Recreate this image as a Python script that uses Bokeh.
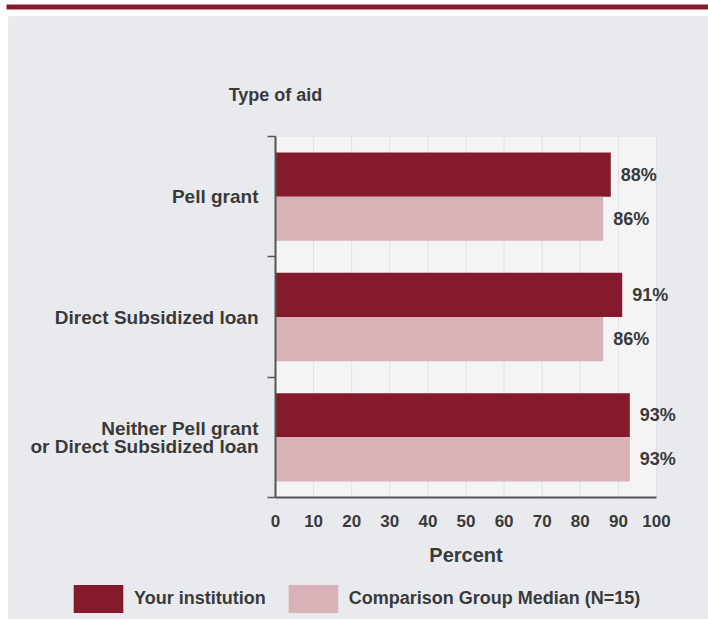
from bokeh.plotting import figure
from bokeh.models import (Range1d, FixedTicker, Label, LabelSet, ColumnDataSource,
                          Legend, LegendItem, BoxAnnotation)
from bokeh.core.properties import value
from bokeh.embed import file_html
from bokeh.resources import INLINE

# ---- data ----
categories = ["Pell grant", "Direct Subsidized loan", "Neither Pell grant\nor Direct Subsidized loan"]
your_institution = [88, 91, 93]
comparison_median = [86, 86, 93]
x_ticks = [0, 10, 20, 30, 40, 50, 60, 70, 80, 90, 100]
series_names = ["Your institution", "Comparison Group Median (N=15)"]
axis_title_y = "Type of aid"
axis_title_x = "Percent"

# ---- style / layout ----
DARK = "#851a2c"
LIGHT = "#d8b2b7"
PANEL = "#e9eaee"
PLOTBG = "#f4f4f4"
TEXT = "#3a3a3a"
AXIS = "#555555"
FONT = "Liberation Sans"

W, H = 708, 619
PX_X0, PX_X100 = 275, 656      # where 0 and 100 % sit on the canvas
PX_TOP, PX_BOT = 136, 497      # top and bottom of the category band
n = len(categories)
XMAX = x_ticks[-1]
kx = (PX_X100 - PX_X0) / XMAX
ky = (PX_BOT - PX_TOP) / n
x_start = -PX_X0 / kx
x_end = XMAX + (W - PX_X100) / kx
y_top = -PX_TOP / ky
y_bot = n + (H - PX_BOT) / ky


def dx(px):
    return (px - PX_X0) / kx


def dy(py):
    return (py - PX_TOP) / ky


bar_h = 0.3667
pad = (1 - 2 * bar_h) / 2
idx = list(range(n))
y_dark = [i + pad + bar_h / 2 for i in idx]
y_light = [i + pad + 1.5 * bar_h for i in idx]

src_dark = ColumnDataSource(dict(y=y_dark, v=your_institution,
                                 lab=[f"{v}%" for v in your_institution]))
src_light = ColumnDataSource(dict(y=y_light, v=comparison_median,
                                  lab=[f"{v}%" for v in comparison_median]))

p = figure(width=W, height=H, output_backend="svg", toolbar_location=None,
           x_range=Range1d(x_start, x_end), y_range=Range1d(y_bot, y_top),
           min_border=0)
p.border_fill_color = "white"
p.background_fill_color = "white"
p.outline_line_color = None
p.xgrid.visible = False
p.ygrid.visible = False

# page decorations
p.add_layout(BoxAnnotation(left=dx(6), right=dx(W), top=dy(4), bottom=dy(9),
                           fill_color="#861a2c", fill_alpha=1, line_color=None,
                           level="underlay"))
p.add_layout(BoxAnnotation(left=dx(8), right=dx(W + 2), top=dy(16), bottom=dy(H + 2),
                           fill_color=PANEL, fill_alpha=1, line_color="#d2d3d6",
                           line_width=1, level="underlay"))
# plot area
p.add_layout(BoxAnnotation(left=0, right=XMAX, top=0, bottom=n,
                           fill_color=PLOTBG, fill_alpha=1, line_color="#d6d6d6",
                           line_width=1, level="underlay"))

# vertical grid lines
p.segment(x0=x_ticks, y0=[0] * len(x_ticks), x1=x_ticks, y1=[n] * len(x_ticks),
          line_color="#dde2ea", line_width=1)

r1 = p.hbar(y="y", right="v", left=0, height=bar_h, source=src_dark,
            fill_color=DARK, line_color=None)
r2 = p.hbar(y="y", right="v", left=0, height=bar_h, source=src_light,
            fill_color=LIGHT, line_color=None)

# x axis at the bottom of the plot area
xa = p.xaxis[0]
xa.fixed_location = n
xa.bounds = (0, XMAX)
xa.ticker = FixedTicker(ticks=x_ticks)
xa.axis_line_color = AXIS
xa.axis_line_width = 2
xa.major_tick_out = 0
xa.major_tick_in = 0
xa.minor_tick_out = 0
xa.minor_tick_in = 0
xa.major_label_standoff = 17
xa.major_label_text_font = FONT
xa.major_label_text_font_style = "bold"
xa.major_label_text_font_size = "17px"
xa.major_label_text_color = TEXT
xa.axis_label = axis_title_x
xa.axis_label_standoff = 14
xa.axis_label_text_font = FONT
xa.axis_label_text_font_style = "bold"
xa.axis_label_text_font_size = "20px"
xa.axis_label_text_color = TEXT

# y axis at x = 0: unlabeled ticks at the category boundaries
ya = p.yaxis[0]
ya.fixed_location = 0
ya.bounds = (0, n)
ya.ticker = FixedTicker(ticks=[], minor_ticks=list(range(n + 1)))
ya.axis_line_color = AXIS
ya.axis_line_width = 2
ya.major_tick_out = 0
ya.major_tick_in = 0
ya.minor_tick_out = 8
ya.minor_tick_in = 0
ya.minor_tick_line_color = AXIS
ya.minor_tick_line_width = 1.5

# category labels
for i, cat in enumerate(categories):
    lines = cat.split("\n")
    m = len(lines)
    for k, line in enumerate(lines):
        off = ((m - 1) / 2 - k) * 18
        p.add_layout(Label(x=0, y=i + 0.5, x_offset=-17, y_offset=off, text=line,
                           text_align="right", text_baseline="middle",
                           text_font=FONT, text_font_style="bold",
                           text_font_size="19px", text_color=TEXT))

# y axis title above the axis
p.add_layout(Label(x=0, y=0, y_offset=42, text=axis_title_y, text_align="center",
                   text_baseline="middle", text_font=FONT, text_font_style="bold",
                   text_font_size="18px", text_color=TEXT))

# value labels
for src in (src_dark, src_light):
    p.add_layout(LabelSet(x="v", y="y", text="lab", source=src, x_offset=10,
                          text_align="left", text_baseline="middle",
                          text_font=value(FONT), text_font_style="bold",
                          text_font_size="18px", text_color=TEXT))

legend = Legend(items=[LegendItem(label=series_names[0], renderers=[r1]),
                       LegendItem(label=series_names[1], renderers=[r2])],
                orientation="horizontal", location=(67, 3),
                glyph_width=62, glyph_height=35, label_standoff=5, spacing=16,
                padding=0, margin=0, background_fill_alpha=0, border_line_alpha=0,
                label_text_font=FONT, label_text_font_style="bold",
                label_text_font_size="18px", label_text_color=TEXT)
p.add_layout(legend)

open("out.html", "w").write(file_html(p, INLINE))
